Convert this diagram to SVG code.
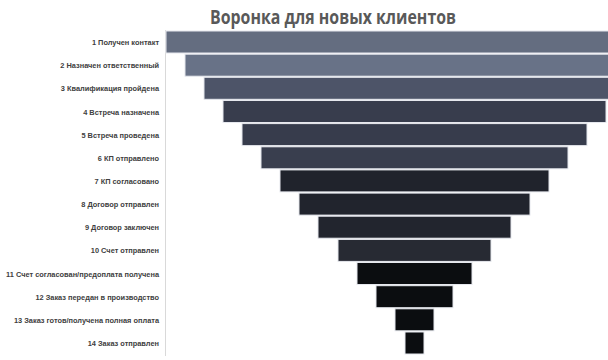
<svg xmlns="http://www.w3.org/2000/svg" width="608" height="360" viewBox="0 0 608 360">
<style>
.t{font-family:"Open Sans","Liberation Sans",sans-serif;font-weight:bold;font-size:19px;fill:#595959}
.l{font-family:"Liberation Sans",Arial,sans-serif;font-size:7.4px;font-weight:bold;fill:#404040;text-anchor:end}
.b{stroke:#e6e8ee;stroke-width:1}
</style>
<rect width="608" height="360" fill="#ffffff"/>
<text class="t" x="333" y="24" text-anchor="middle" textLength="246" lengthAdjust="spacingAndGlyphs">Воронка для новых клиентов</text>
<line x1="165.5" y1="30" x2="165.5" y2="356" stroke="#d9d9d9" stroke-width="1"/>
<g id="bars">
<g id="n1"><rect class="b" x="166" y="31" width="497" height="22" fill="#646d80"/><text class="l" x="159" y="45">1 Получен контакт</text></g>
<g id="n2"><rect class="b" x="185" y="54.2" width="459" height="22" fill="#687287"/><text class="l" x="159" y="68.2">2 Назначен ответственный</text></g>
<g id="n3"><rect class="b" x="204" y="77.3" width="421" height="22" fill="#4d5468"/><text class="l" x="159" y="91.3">3 Квалификация пройдена</text></g>
<g id="n4"><rect class="b" x="223" y="100.5" width="383" height="22" fill="#383d4d"/><text class="l" x="159" y="114.5">4 Встреча назначена</text></g>
<g id="n5"><rect class="b" x="242" y="123.6" width="345" height="22" fill="#373c4c"/><text class="l" x="159" y="137.6">5 Встреча проведена</text></g>
<g id="n6"><rect class="b" x="261" y="146.8" width="307" height="22" fill="#393e4e"/><text class="l" x="159" y="160.8">6 КП отправлено</text></g>
<g id="n7"><rect class="b" x="280" y="169.9" width="269" height="22" fill="#20232c"/><text class="l" x="159" y="183.9">7 КП согласовано</text></g>
<g id="n8"><rect class="b" x="299" y="193.1" width="231" height="22" fill="#21242d"/><text class="l" x="159" y="207.1">8 Договор отправлен</text></g>
<g id="n9"><rect class="b" x="318" y="216.2" width="193" height="22" fill="#22252e"/><text class="l" x="159" y="230.2">9 Договор заключен</text></g>
<g id="n10"><rect class="b" x="338" y="239.4" width="153" height="22" fill="#272a33"/><text class="l" x="159" y="253.4">10 Счет отправлен</text></g>
<g id="n11"><rect class="b" x="357" y="262.5" width="115" height="22" fill="#0b0d10"/><text class="l" x="159" y="276.5">11 Счет согласован/предоплата получена</text></g>
<g id="n12"><rect class="b" x="376" y="285.7" width="77" height="22" fill="#0b0d10"/><text class="l" x="159" y="299.7">12 Заказ передан в производство</text></g>
<g id="n13"><rect class="b" x="395" y="308.8" width="39" height="22" fill="#0b0d10"/><text class="l" x="159" y="322.8">13 Заказ готов/получена полная оплата</text></g>
<g id="n14"><rect class="b" x="405" y="332" width="19" height="22" fill="#0b0d10"/><text class="l" x="159" y="346">14 Заказ отправлен</text></g>
</g>
<g id="connectors"></g>
</svg>
